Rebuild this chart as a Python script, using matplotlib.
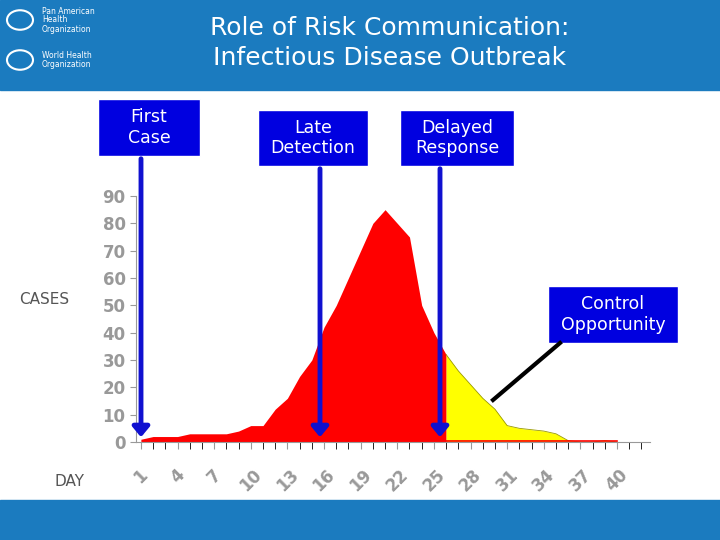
import matplotlib
matplotlib.use("Agg")
import matplotlib.pyplot as plt
import matplotlib.transforms as mtransforms
from matplotlib.patches import Rectangle

days = list(range(1, 41))
cases = [1, 2, 2, 2, 3, 3, 3, 3, 4, 6, 6, 12, 16, 24, 30, 42, 50, 60, 70, 80,
         85, 80, 75, 50, 40, 32, 26, 21, 16, 12, 6, 5, 4.5, 4, 3, 0.5, 0, 0, 0.5, 0]
split_day = 26
yticks = [0, 10, 20, 30, 40, 50, 60, 70, 80, 90]
xticks = list(range(1, 41, 3))

W, H = 720, 540
fig = plt.figure(figsize=(7.2, 5.4), dpi=100)
blue = "#1b7bbf"
fig.patches.append(Rectangle((0, 1 - 90 / H), 1, 90 / H, transform=fig.transFigure, color=blue, zorder=0))
fig.patches.append(Rectangle((0, 0), 1, 40 / H, transform=fig.transFigure, color=blue, zorder=0))

def fx(px): return px / W
def fy(py): return 1 - py / H

ax = fig.add_axes([fx(136), fy(442), fx(650) - fx(136), fy(196) - fy(442)])
red_x = [d for d in days if d <= split_day]
red_y = cases[:len(red_x)]
ax.fill_between(red_x, 0, red_y, color="#ff0000", lw=0)
yel_x = [d for d in days if d >= split_day]
yel_y = cases[split_day - 1:]
ax.fill_between(yel_x, 0, yel_y, color="#ffff00", lw=0)
ax.plot(yel_x, yel_y, color="#999900", lw=0.6)
ax.plot([split_day, 40], [0.4, 0.4], color="red", lw=1.2)
ax.set_xlim(0.6, 42.7)
ax.set_ylim(0, 90)
ax.set_yticks(yticks)
ax.set_xticks(xticks)
ax.set_xticks(range(1, 43), minor=True)
ax.set_yticklabels([str(v) for v in yticks], color="#999999", fontsize=12, fontweight="bold")
ax.set_xticklabels([str(v) for v in xticks], color="#999999", fontsize=12, fontweight="bold", rotation=45)
off = mtransforms.ScaledTranslation(8 / 100, 0, fig.dpi_scale_trans)
for lab in ax.get_xticklabels():
    lab.set_transform(lab.get_transform() + off)
for s in ["top", "right"]:
    ax.spines[s].set_visible(False)
ax.spines["left"].set_color("#999999")
ax.spines["bottom"].set_color("#999999")
ax.tick_params(axis="both", colors="#999999", direction="out")
ax.tick_params(axis="x", which="both", length=5, pad=12)
ax.tick_params(axis="y", length=4)
ax.patch.set_alpha(0)

fig.text(fx(390), fy(43), "Role of Risk Communication:\nInfectious Disease Outbreak", ha="center", va="center",
         color="white", fontsize=18, linespacing=1.3)
fig.text(fx(42), fy(20), "Pan American\nHealth\nOrganization", color="white", fontsize=5.5, va="center", linespacing=1.0)
fig.text(fx(42), fy(60), "World Health\nOrganization", color="white", fontsize=5.5, va="center", linespacing=1.0)
for cy in (20, 60):
    fig.patches.append(plt.Circle((fx(20), fy(cy)), 13 / W, transform=fig.transFigure, fc="none", ec="white", lw=1.5))

fig.text(fx(44), fy(300), "CASES", ha="center", va="center", fontsize=11, color="#555555")
fig.text(fx(70), fy(482), "DAY", ha="center", va="center", fontsize=11, color="#555555")

def box(x0, y0, x1, y1, txt):
    fig.patches.append(Rectangle((fx(x0), fy(y1)), fx(x1) - fx(x0), fy(y0) - fy(y1), transform=fig.transFigure,
                                 fc="#0000e0", ec="white", lw=1, zorder=3))
    fig.text(fx((x0 + x1) / 2), fy((y0 + y1) / 2), txt, ha="center", va="center", color="white",
             fontsize=12.5, zorder=4, linespacing=1.15)

box(98, 99, 200, 156, "First\nCase")
box(258, 110, 368, 166, "Late\nDetection")
box(400, 110, 514, 166, "Delayed\nResponse")
box(548, 286, 678, 343, "Control\nOpportunity")

for x, ytop in [(141, 156), (320, 166), (440, 166)]:
    fig.add_artist(matplotlib.patches.FancyArrowPatch((fx(x), fy(ytop)), (fx(x), fy(440)), transform=fig.transFigure,
                   arrowstyle="-|>,head_length=6,head_width=5", color="#1010d0", lw=3.5, zorder=5))
fig.add_artist(matplotlib.lines.Line2D([fx(560), fx(493)], [fy(343), fy(400)], transform=fig.transFigure,
                                       color="black", lw=3, zorder=5))

fig.savefig("out.png", dpi=100)
